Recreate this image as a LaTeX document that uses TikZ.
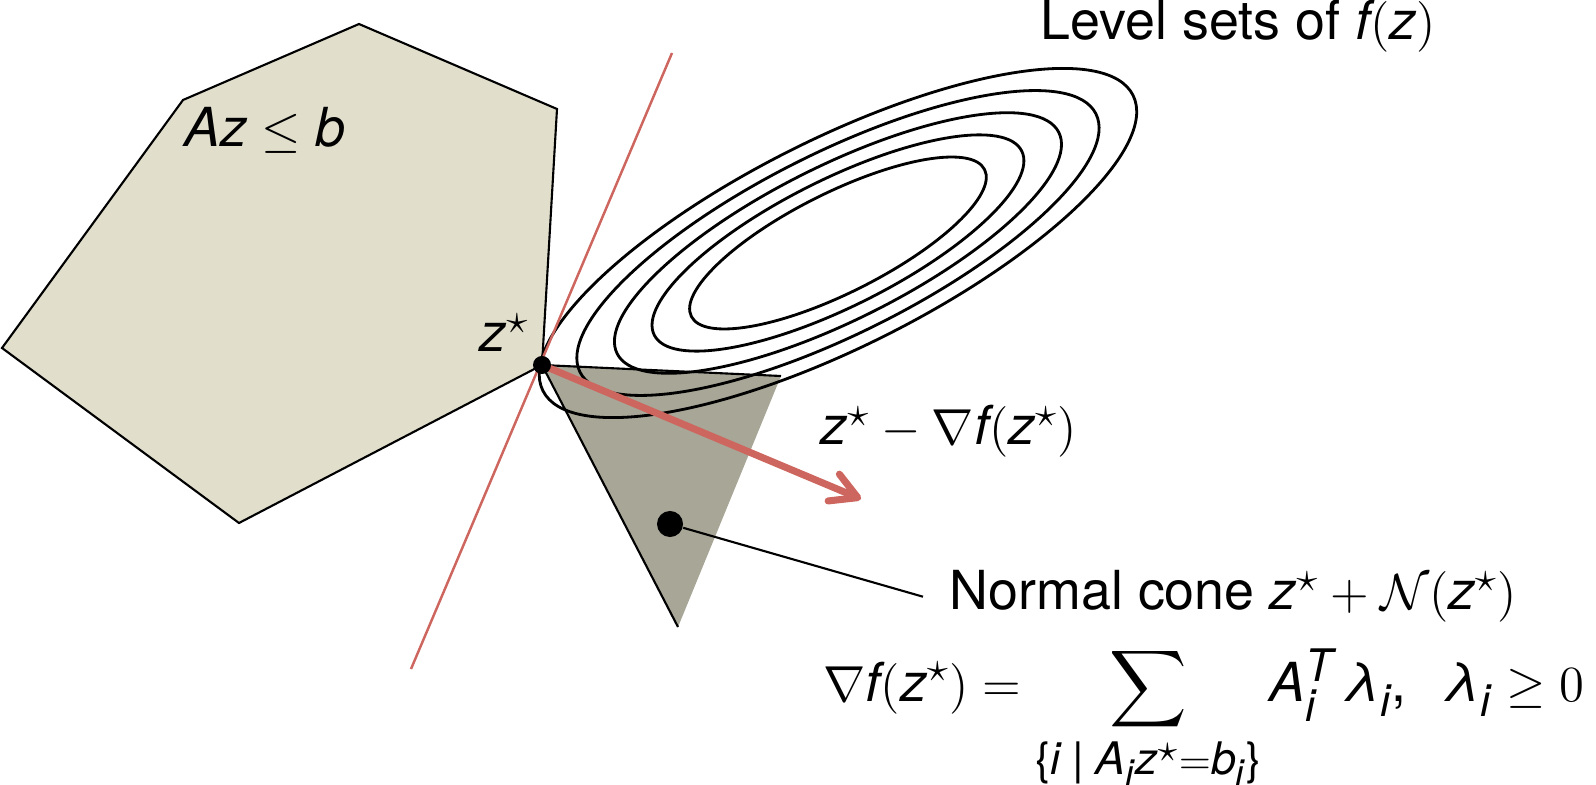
\documentclass[tikz,border=0pt]{standalone}
\usepackage{amsmath,amssymb}
\usepackage{fontspec}
\setmainfont{TeX Gyre Heros}
\usepackage[italic]{mathastext}
\usepackage{tikz}
\usetikzlibrary{arrows.meta,positioning,calc}
\definecolor{polyfill}{RGB}{225,223,204}
\definecolor{conefill}{RGB}{168,166,150}
\definecolor{redline}{RGB}{205,102,94}
\newcommand{\mminus}{\mathchar"2200}
\newcommand{\lam}{\text{\itshape λ}}
\tikzset{
  region/.style={draw, line width=0.6pt, line join=miter, fill=polyfill},
  cone/.style={fill=conefill},
  edge/.style={draw, line width=0.6pt},
  level/.style={draw, line width=0.8pt},
  support/.style={draw=redline, line width=0.7pt},
  grad/.style={draw=redline, line width=2pt, -{Straight Barb[round, length=2.6mm, width=2.9mm]}},
  lbl/.style={font=\fontsize{15.3}{18}\selectfont, inner sep=0pt},
  zdot/.style={circle, fill=black, inner sep=0pt, minimum size=0.18cm},
  mdot/.style={circle, fill=black, inner sep=0pt, minimum size=0.26cm}}

\begin{document}
\begin{tikzpicture}[x=0.01cm, y=-0.01cm]
  \useasboundingbox (0,0) rectangle (1596,785);
  \coordinate (zs) at (542,365);
  \coordinate (ctr) at (838,243);
  \coordinate (cr) at (781,376);
  \coordinate (cb) at (678,627);
  % feasible set
  \path[region] (183,100) -- (359,24) -- (557,109) -- (zs) -- (239,523) -- (2,348) -- cycle;
  % normal cone
  \path[cone] (zs) -- (cr) -- (cb) -- cycle;
  % level sets
  \foreach \a/\b in {330/104, 288.5/90.5, 247/77, 205.5/63.5, 164/50}
    \draw[level, rotate around={26.6:(ctr)}] (ctr) ellipse [x radius=\a*0.01cm, y radius=\b*0.01cm];
  \draw[edge] (cr) -- (zs) -- (cb);
  % supporting line and step
  \coordinate (sup1) at (672,53);
  \coordinate (sup2) at (411,669);
  \draw[support] (sup1) -- (sup2);
  \coordinate (tip) at (861,499);
  \draw[grad] (zs) -- (tip);
  \node[zdot] (zsdot) at (zs) {};
  \node[mdot] (mdot) at (670,524) {};
  % labels
  \node[lbl, anchor=base west] (feas) at (184,147) {$Az \leq b$};
  \node[lbl, anchor=base west] (zslbl) at (479,352) {$z^\star$};
  \node[lbl, anchor=base west] (lvl) at (1040,40) {Level sets of $f(z)$};
  \node[lbl, anchor=base west] (gstep) at (820,445) {$z^\star \mminus \nabla f(z^\star)$};
  \node[lbl, anchor=base west, inner xsep=0.26cm] (ncone) at (923,610) {Normal cone $z^\star + \mathcal{N}(z^\star)$};
  \node[lbl, anchor=base west] (kkt) at (823,702)
    {$\displaystyle \nabla f(z^\star) = \sum_{\{i \;\mid\; A_i z^\star = b_i\}} A_i^T\, \lam_i,\;\; \lam_i \geq 0$};
  \draw[edge] (mdot) -- (ncone.west);
\end{tikzpicture}
\end{document}
